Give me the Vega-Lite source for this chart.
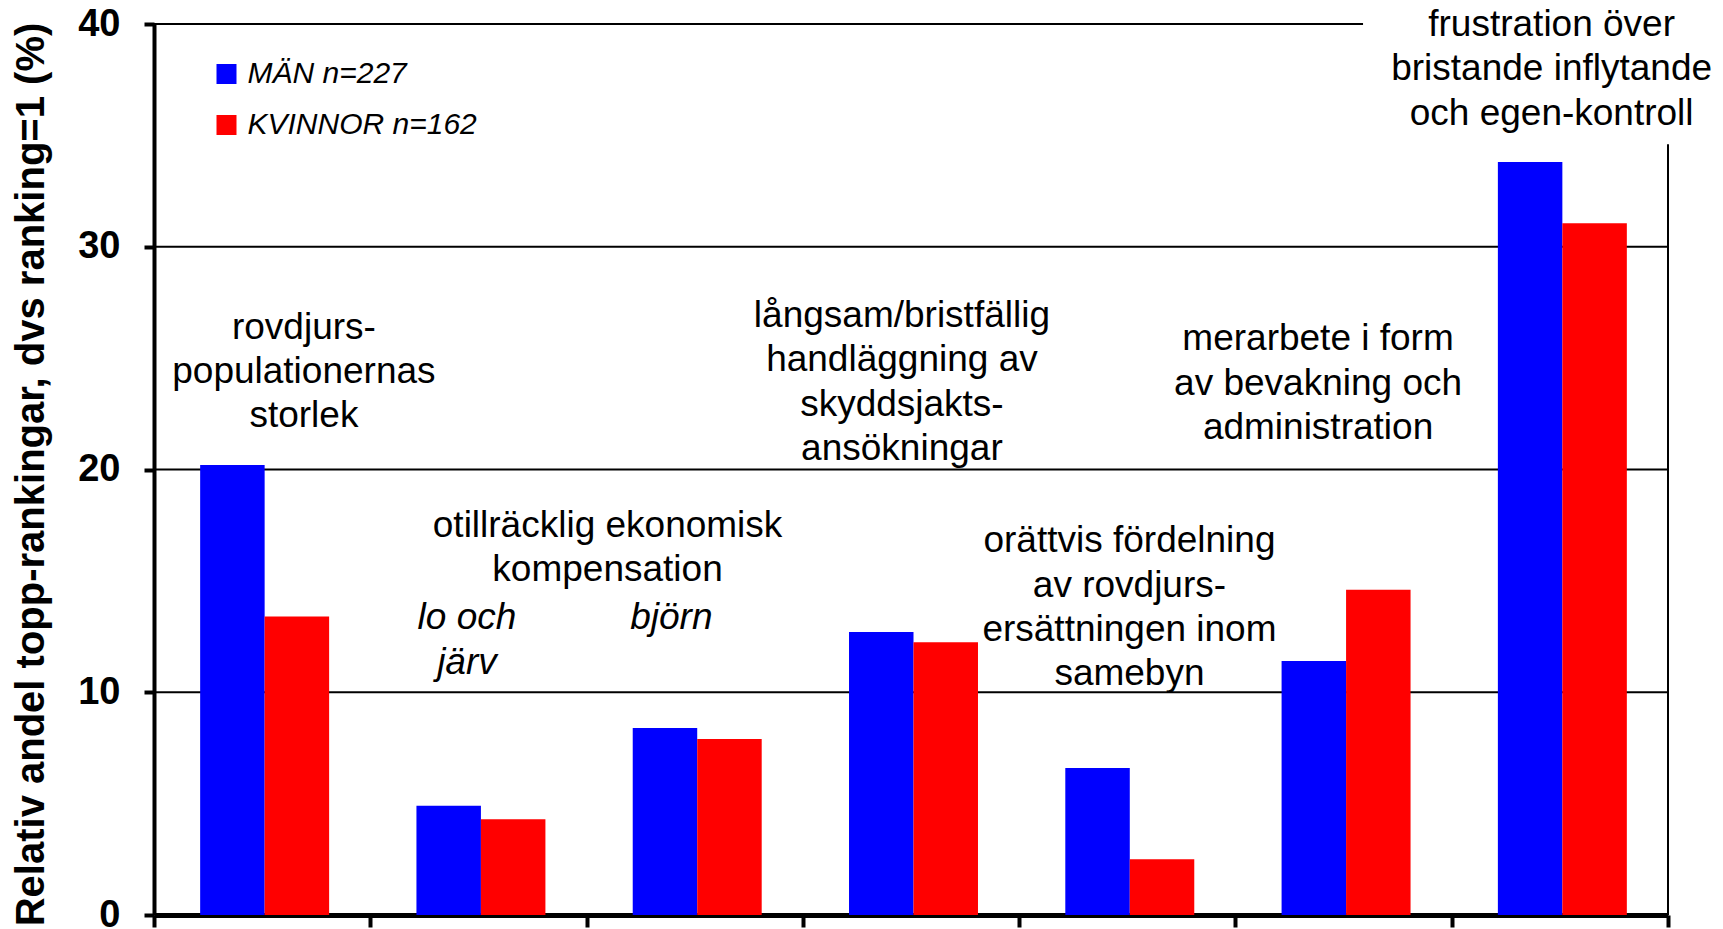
{
  "$schema": "https://vega.github.io/schema/vega-lite/v6.json",
  "width": 1514,
  "height": 891,
  "autosize": {"type": "none"},
  "padding": {"left": 154, "top": 24, "right": 55, "bottom": 14},
  "background": "white",
  "config": {"view": {"stroke": null}, "font": "Liberation Sans"},
  "datasets": {
    "bars": [
      {"kategori": "rovdjurspopulationernas storlek", "grupp": "MÄN n=227", "andel": 20.2},
      {"kategori": "rovdjurspopulationernas storlek", "grupp": "KVINNOR n=162", "andel": 13.4},
      {"kategori": "ekonomisk kompensation lo och järv", "grupp": "MÄN n=227", "andel": 4.9},
      {"kategori": "ekonomisk kompensation lo och järv", "grupp": "KVINNOR n=162", "andel": 4.3},
      {"kategori": "ekonomisk kompensation björn", "grupp": "MÄN n=227", "andel": 8.4},
      {"kategori": "ekonomisk kompensation björn", "grupp": "KVINNOR n=162", "andel": 7.9},
      {"kategori": "långsam/bristfällig handläggning", "grupp": "MÄN n=227", "andel": 12.7},
      {"kategori": "långsam/bristfällig handläggning", "grupp": "KVINNOR n=162", "andel": 12.24},
      {"kategori": "orättvis fördelning", "grupp": "MÄN n=227", "andel": 6.6},
      {"kategori": "orättvis fördelning", "grupp": "KVINNOR n=162", "andel": 2.5},
      {"kategori": "merarbete", "grupp": "MÄN n=227", "andel": 11.4},
      {"kategori": "merarbete", "grupp": "KVINNOR n=162", "andel": 14.6},
      {"kategori": "frustration", "grupp": "MÄN n=227", "andel": 33.8},
      {"kategori": "frustration", "grupp": "KVINNOR n=162", "andel": 31.05}
    ],
    "lines": [
      {"x1": 0, "x2": 7, "y1": 10, "y2": 10},
      {"x1": 0, "x2": 7, "y1": 20, "y2": 20},
      {"x1": 0, "x2": 7, "y1": 30, "y2": 30},
      {"x1": 0, "x2": 5.59, "y1": 40, "y2": 40},
      {"x1": 7, "x2": 7, "y1": 0, "y2": 34.6}
    ],
    "notes": [
      {"xp": 0.693, "yp": 26.36, "tekst": "rovdjurs-", "kursiv": false},
      {"xp": 0.693, "yp": 24.39, "tekst": "populationernas", "kursiv": false},
      {"xp": 0.693, "yp": 22.42, "tekst": "storlek", "kursiv": false},
      {"xp": 2.097, "yp": 17.48, "tekst": "otillräcklig ekonomisk", "kursiv": false},
      {"xp": 2.097, "yp": 15.51, "tekst": "kompensation", "kursiv": false},
      {"xp": 1.447, "yp": 13.34, "tekst": "lo och", "kursiv": true},
      {"xp": 1.447, "yp": 11.32, "tekst": "järv", "kursiv": true},
      {"xp": 2.392, "yp": 13.34, "tekst": "björn", "kursiv": true},
      {"xp": 3.458, "yp": 26.90, "tekst": "långsam/bristfällig", "kursiv": false},
      {"xp": 3.458, "yp": 24.93, "tekst": "handläggning av", "kursiv": false},
      {"xp": 3.458, "yp": 22.91, "tekst": "skyddsjakts-", "kursiv": false},
      {"xp": 3.458, "yp": 20.94, "tekst": "ansökningar", "kursiv": false},
      {"xp": 4.51, "yp": 16.79, "tekst": "orättvis fördelning", "kursiv": false},
      {"xp": 4.51, "yp": 14.77, "tekst": "av rovdjurs-", "kursiv": false},
      {"xp": 4.51, "yp": 12.80, "tekst": "ersättningen inom", "kursiv": false},
      {"xp": 4.51, "yp": 10.83, "tekst": "samebyn", "kursiv": false},
      {"xp": 5.382, "yp": 25.87, "tekst": "merarbete i form", "kursiv": false},
      {"xp": 5.382, "yp": 23.85, "tekst": "av bevakning och", "kursiv": false},
      {"xp": 5.382, "yp": 21.87, "tekst": "administration", "kursiv": false},
      {"xp": 6.462, "yp": 39.96, "tekst": "frustration över", "kursiv": false},
      {"xp": 6.462, "yp": 37.98, "tekst": "bristande inflytande", "kursiv": false},
      {"xp": 6.462, "yp": 35.96, "tekst": "och egen-kontroll", "kursiv": false}
    ]
  },
  "resolve": {"scale": {"x": "independent"}, "axis": {"x": "independent"}},
  "layer": [
    {
      "data": {"name": "lines"},
      "mark": {"type": "rule", "color": "black", "strokeWidth": 2},
      "encoding": {
        "x": {"field": "x1", "type": "quantitative", "scale": {"domain": [0, 7], "nice": false, "zero": false},
          "axis": {"values": [0, 1, 2, 3, 4, 5, 6, 7], "labels": false, "grid": false, "title": null, "tickSize": 12, "tickWidth": 4, "tickColor": "black", "domainColor": "black", "domainWidth": 5}},
        "x2": {"field": "x2"},
        "y": {"field": "y1", "type": "quantitative", "scale": {"domain": [0, 40], "nice": false},
          "axis": {"values": [0, 10, 20, 30, 40], "grid": false, "title": "Relativ andel topp-rankingar, dvs ranking=1 (%)", "titleFontSize": 40, "titleFontWeight": "bold", "titleColor": "black", "titleFont": "Liberation Sans", "titlePadding": 26, "titleY": 450, "labelFontSize": 38, "labelFontWeight": "bold", "labelColor": "black", "labelFont": "Liberation Sans", "labelPadding": 24, "tickSize": 10, "tickWidth": 4, "tickColor": "black", "domainColor": "black", "domainWidth": 4}},
        "y2": {"field": "y2"}
      }
    },
    {
      "data": {"name": "bars"},
      "mark": {"type": "bar"},
      "encoding": {
        "x": {"field": "kategori", "type": "nominal", "sort": null, "scale": {"paddingInner": 0, "paddingOuter": 0, "range": [2.5, 1516.5]}, "axis": null},
        "xOffset": {"field": "grupp", "type": "nominal", "sort": ["MÄN n=227", "KVINNOR n=162"], "scale": {"paddingInner": 0, "paddingOuter": 0.677}},
        "y": {"field": "andel", "type": "quantitative", "scale": {"domain": [0, 40], "nice": false},
          "axis": {"values": [0, 10, 20, 30, 40], "grid": false, "title": "Relativ andel topp-rankingar, dvs ranking=1 (%)", "titleFontSize": 40, "titleFontWeight": "bold", "titleColor": "black", "titleFont": "Liberation Sans", "titlePadding": 26, "titleY": 450, "labelFontSize": 38, "labelFontWeight": "bold", "labelColor": "black", "labelFont": "Liberation Sans", "labelPadding": 24, "tickSize": 10, "tickWidth": 4, "tickColor": "black", "domainColor": "black", "domainWidth": 4}},
        "color": {"field": "grupp", "type": "nominal", "sort": ["MÄN n=227", "KVINNOR n=162"],
          "scale": {"domain": ["MÄN n=227", "KVINNOR n=162"], "range": ["#0000ff", "#ff0000"]},
          "legend": {"orient": "none", "legendX": 57.5, "legendY": 35, "title": null, "symbolType": "square", "symbolSize": 400, "symbolStrokeWidth": 0, "labelFontSize": 30, "labelFontStyle": "italic", "labelFont": "Liberation Sans", "labelColor": "black", "rowPadding": 21, "labelOffset": 6, "padding": 0, "labelLimit": 500}}
      }
    },
    {
      "data": {"name": "notes"},
      "transform": [{"filter": "!datum.kursiv"}],
      "mark": {"type": "text", "fontSize": 37, "font": "Liberation Sans", "align": "center", "baseline": "middle", "color": "black"},
      "encoding": {
        "x": {"field": "xp", "type": "quantitative", "scale": {"domain": [0, 7], "nice": false, "zero": false}, "axis": null},
        "y": {"field": "yp", "type": "quantitative", "scale": {"domain": [0, 40], "nice": false},
          "axis": {"values": [0, 10, 20, 30, 40], "grid": false, "title": "Relativ andel topp-rankingar, dvs ranking=1 (%)", "titleFontSize": 40, "titleFontWeight": "bold", "titleColor": "black", "titleFont": "Liberation Sans", "titlePadding": 26, "titleY": 450, "labelFontSize": 38, "labelFontWeight": "bold", "labelColor": "black", "labelFont": "Liberation Sans", "labelPadding": 24, "tickSize": 10, "tickWidth": 4, "tickColor": "black", "domainColor": "black", "domainWidth": 4}},
        "text": {"field": "tekst", "type": "nominal"}
      }
    },
    {
      "data": {"name": "notes"},
      "transform": [{"filter": "datum.kursiv"}],
      "mark": {"type": "text", "fontSize": 37, "font": "Liberation Sans", "fontStyle": "italic", "align": "center", "baseline": "middle", "color": "black"},
      "encoding": {
        "x": {"field": "xp", "type": "quantitative", "scale": {"domain": [0, 7], "nice": false, "zero": false}, "axis": null},
        "y": {"field": "yp", "type": "quantitative", "scale": {"domain": [0, 40], "nice": false},
          "axis": {"values": [0, 10, 20, 30, 40], "grid": false, "title": "Relativ andel topp-rankingar, dvs ranking=1 (%)", "titleFontSize": 40, "titleFontWeight": "bold", "titleColor": "black", "titleFont": "Liberation Sans", "titlePadding": 26, "titleY": 450, "labelFontSize": 38, "labelFontWeight": "bold", "labelColor": "black", "labelFont": "Liberation Sans", "labelPadding": 24, "tickSize": 10, "tickWidth": 4, "tickColor": "black", "domainColor": "black", "domainWidth": 4}},
        "text": {"field": "tekst", "type": "nominal"}
      }
    }
  ]
}
